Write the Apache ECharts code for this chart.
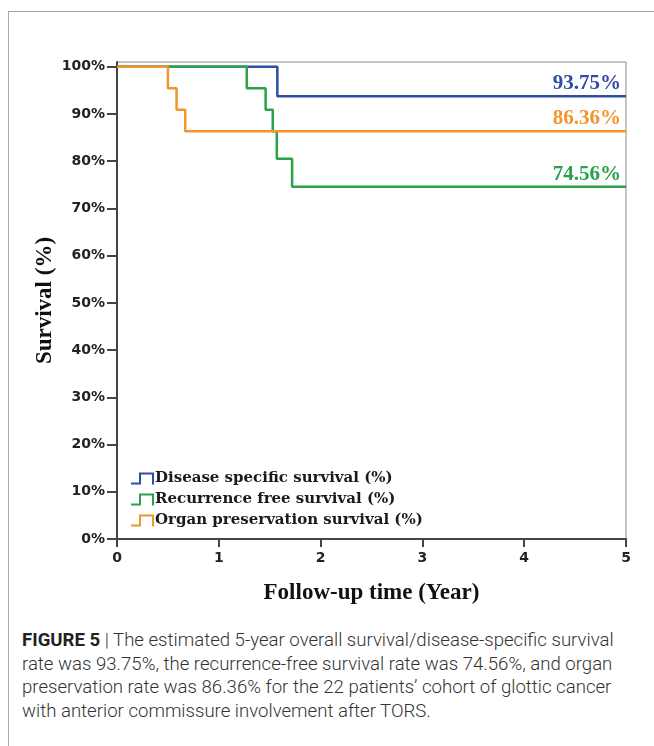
<!DOCTYPE html>
<html>
<head>
    <meta charset="utf-8">
    <title>Survival</title>
    <script src="https://cdn.jsdelivr.net/npm/echarts@6/dist/echarts.min.js"></script>
    <style>
        body{
            margin: 0;
            background: #fff;
        }
        #frame{
            position: absolute;
            left: 8px;
            top: 11px;
            width: 646px;
            height: 735px;
            border-top: 1px solid #a8a8a8;
            border-left: 1px solid #a8a8a8;
        }
        #chart{
            position: absolute;
            left: 0;
            top: 0;
            width: 654px;
            height: 620px;
        }
        #caption{
            position: absolute;
            left: 22px;
            top: 629px;
            width: 610px;
            font-family: Roboto, "Liberation Sans", sans-serif;
            font-weight: 300;
            font-size: 18.6px;
            line-height: 23.7px;
            color: #333;
        }
        #caption b{
            font-weight: 700;
            color: #222;
        }
    </style>
</head>
<body>
<div id="frame"></div>
<div id="chart"></div>
<div id="caption"><b>FIGURE 5</b> | The estimated 5-year overall survival/disease-specific survival rate was 93.75%, the recurrence-free survival rate was 74.56%, and organ preservation rate was 86.36% for the 22 patients’ cohort of glottic cancer with anterior commissure involvement after TORS.</div>
<script>
    // Kaplan-Meier steps: [year, survival %]
    var diseaseSpecific = [[0, 100], [1.575, 93.75], [5, 93.75]];
    var recurrenceFree = [[0, 100], [1.275, 95.45], [1.46, 90.91], [1.53, 86.36], [1.57, 80.5], [1.72, 74.56], [5, 74.56]];
    var organPreservation = [[0, 100], [0.5, 95.45], [0.585, 90.91], [0.67, 86.36], [5, 86.36]];

    var seriesNames = ['Disease specific survival (%)', 'Recurrence free survival (%)', 'Organ preservation survival (%)'];
    var endLabels = ['93.75%', '74.56%', '86.36%'];
    var yTicks = [0, 10, 20, 30, 40, 50, 60, 70, 80, 90, 100];
    var xTicks = [0, 1, 2, 3, 4, 5];

    var colors = ['#2f4ea3', '#2aa24a', '#f0962c'];
    var stepIcon = 'path://M0,10 L8,10 L8,0 L23,0 L23,12 L21,12 L21,2 L10,2 L10,12 L0,12 Z';

    function makeSeries(name, data, color, label) {
        var pts = data.map(function (p, i) {
            if (i == data.length - 1) {
                return {
                    value: p,
                    label: {
                        show: true,
                        formatter: label,
                        position: 'top',
                        align: 'right',
                        distance: 2,
                        offset: [-5, 0],
                        color: color,
                        fontFamily: 'Liberation Serif',
                        fontWeight: 'bold',
                        fontSize: 21
                    }
                };
            }
            return p;
        });
        return {
            name: name,
            type: 'line',
            step: 'end',
            data: pts,
            symbol: 'circle',
            symbolSize: 0,
            showSymbol: true,
            color: color,
            lineStyle: {width: 2.5, color: color},
            animation: false
        };
    }

    var chart = echarts.init(document.getElementById('chart'));
    chart.setOption({
        animation: false,
        grid: {
            left: 117,
            right: 28,
            top: 62,
            bottom: 81,
            show: true,
            borderColor: '#8a8a8a',
            borderWidth: 1
        },
        legend: {
            orient: 'vertical',
            left: 126,
            top: 466,
            itemWidth: 25,
            itemHeight: 12,
            itemGap: 6,
            icon: stepIcon,
            textStyle: {
                fontFamily: 'DejaVu Serif',
                fontWeight: 'bold',
                fontSize: 15,
                color: '#1a1a1a',
                padding: [0, 0, 0, -5]
            },
            data: seriesNames
        },
        xAxis: {
            type: 'value',
            min: 0,
            max: 5,
            interval: 1,
            name: 'Follow-up time (Year)',
            nameLocation: 'middle',
            nameGap: 43,
            nameTextStyle: {
                fontFamily: 'Liberation Serif',
                fontWeight: 'bold',
                fontSize: 23,
                color: '#111'
            },
            splitLine: {show: false},
            axisLine: {lineStyle: {color: '#444', width: 2}},
            axisTick: {length: 8, lineStyle: {color: '#444', width: 2}, customValues: xTicks},
            axisLabel: {
                customValues: xTicks,
                margin: 12,
                fontFamily: 'DejaVu Sans',
                fontWeight: 'bold',
                fontSize: 14,
                color: '#222'
            }
        },
        yAxis: {
            type: 'value',
            min: 0,
            max: 101,
            name: 'Survival (%)',
            nameLocation: 'middle',
            nameRotate: 90,
            nameGap: 60,
            nameMoveOverlap: false,
            nameTextStyle: {
                fontFamily: 'Liberation Serif',
                fontWeight: 'bold',
                fontSize: 23,
                color: '#111'
            },
            splitLine: {show: false},
            axisLine: {lineStyle: {color: '#444', width: 2}},
            axisTick: {length: 10, lineStyle: {color: '#444', width: 2}, customValues: yTicks},
            axisLabel: {
                customValues: yTicks,
                margin: 12,
                formatter: '{value}%',
                fontFamily: 'DejaVu Sans',
                fontWeight: 'bold',
                fontSize: 14,
                color: '#222'
            }
        },
        series: [
            makeSeries(seriesNames[0], diseaseSpecific, colors[0], endLabels[0]),
            makeSeries(seriesNames[1], recurrenceFree, colors[1], endLabels[1]),
            makeSeries(seriesNames[2], organPreservation, colors[2], endLabels[2])
        ]
    });
</script>
</body>
</html>
